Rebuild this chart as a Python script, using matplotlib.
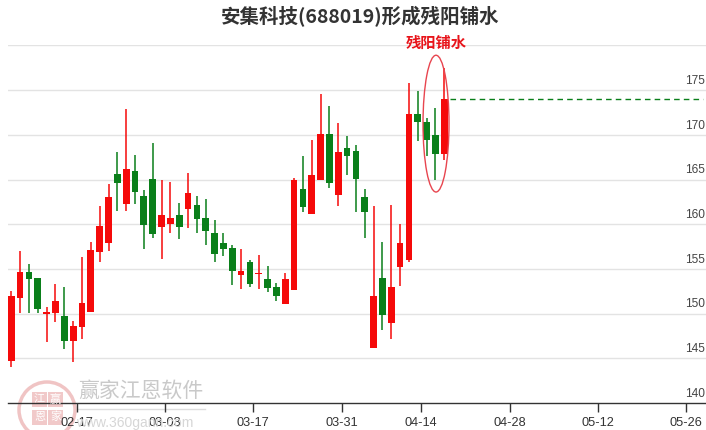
import matplotlib
matplotlib.use("Agg")
import matplotlib.pyplot as plt
from matplotlib.patches import Ellipse, Rectangle
import numpy as np
import pandas as pd

# ---------------- data ----------------
opens = [144.74, 151.78, 154.65, 153.94, 149.95, 150.10, 149.73, 146.97, 148.54, 150.21,
         156.92, 157.93, 165.61, 162.29, 165.94, 163.15, 165.05, 159.72, 160.02, 161.02,
         161.73, 162.14, 160.69, 159.01, 157.89, 157.33, 154.28, 155.77, 154.39, 153.87,
         152.94, 151.03, 152.60, 163.89, 161.17, 164.94, 170.08, 163.30, 168.48, 168.18,
         163.04, 146.11, 153.98, 148.98, 155.25, 155.99, 172.32, 171.42, 169.97, 167.88]
highs = [152.56, 157.00, 155.54, 153.94, 150.77, 153.31, 152.97, 149.17, 156.36, 158.00,
         162.07, 164.49, 168.07, 172.84, 167.73, 163.82, 169.07, 164.94, 164.71, 162.33,
         165.72, 163.15, 162.81, 160.46, 159.01, 157.67, 157.22, 155.99, 156.55, 155.32,
         153.42, 154.50, 165.12, 167.62, 169.41, 174.55, 173.21, 171.35, 169.86, 168.85,
         163.93, 162.07, 158.00, 162.14, 160.02, 175.75, 174.89, 171.83, 172.95, 177.42]
lows = [143.99, 150.10, 150.10, 150.10, 146.86, 149.10, 146.08, 144.62, 147.12, 150.21,
        155.73, 157.04, 161.51, 161.51, 162.29, 157.26, 158.49, 156.10, 159.05, 158.38,
        159.61, 159.05, 157.71, 155.81, 156.48, 153.23, 152.79, 153.01, 152.79, 152.45,
        151.44, 151.03, 152.60, 161.40, 161.17, 164.94, 164.08, 162.07, 165.53, 161.40,
        158.49, 146.11, 148.20, 147.12, 153.12, 155.81, 169.33, 167.66, 164.94, 167.17]
closes = [151.97, 154.65, 153.90, 150.48, 150.18, 151.41, 146.97, 148.61, 151.18, 157.11,
          159.79, 163.04, 164.64, 166.17, 163.56, 159.87, 158.94, 161.02, 160.69, 159.72,
          163.48, 160.61, 159.27, 156.70, 157.26, 154.80, 154.76, 153.35, 154.58, 152.90,
          152.00, 153.87, 164.94, 161.96, 165.50, 170.08, 164.64, 168.07, 167.66, 165.01,
          161.40, 151.97, 149.88, 152.97, 157.89, 172.32, 171.46, 169.45, 167.88, 174.00]

start_date = "2023-02-08"
end_date = "2023-05-31"
holidays = ["2023-04-05"]
tick_labels = ["02-17", "03-03", "03-17", "03-31", "04-14", "04-28", "05-12", "05-26"]
y_levels = [140, 145, 150, 155, 160, 165, 170, 175]
grid_levels = [145, 150, 155, 160, 165, 170, 175, 180]

title = "安集科技(688019)形成残阳铺水"
pattern_label = "残阳铺水"
pattern_candles = [47, 48, 49]  # indices of the marked candles

# ---------------- derived ----------------
days = pd.bdate_range(start_date, end_date)
days = days[~days.isin(pd.to_datetime(holidays))]
day_str = [d.strftime("%m-%d") for d in days]
n = len(opens)
xs = np.arange(n)
o = np.array(opens); h = np.array(highs); l = np.array(lows); c = np.array(closes)
up = c >= o

RED = "#f50a0a"
GREEN = "#0a7f1a"

W, H = 706, 430
fig = plt.figure(figsize=(W / 100, H / 100), dpi=100)
fig.patch.set_facecolor("white")

ax_left = 8 / W
ax_bottom = (H - 403) / H
ax_top = (H - 45.4) / H
ax = fig.add_axes([ax_left, ax_bottom, 1 - ax_left, ax_top - ax_bottom])
ax.set_facecolor("none")

px_per_day = 8.837
x0 = -(11.3 - 8) / px_per_day
x1 = x0 + (W - 8) / px_per_day
ax.set_xlim(x0, x1)
ax.set_ylim(140, 180)

# grid
for g in grid_levels:
    ax.axhline(g, color="#e3e3e3", lw=1.0, zorder=0)

# candles
cols = np.where(up, RED, GREEN)
ax.vlines(xs, l, h, colors=cols, lw=1.1, zorder=2)
body_bot = np.minimum(o, c)
body_h = np.maximum(np.abs(c - o), 0.18)
ax.bar(xs, body_h, bottom=body_bot, width=0.76, color=cols, edgecolor=cols,
       linewidth=0.0, zorder=3)

# dashed line at last close
ax.hlines(c[-1], n - 1 + 0.64, x1 - 0.3, colors=GREEN, linestyles=(0, (4, 3)), lw=1.0, zorder=2)

# ellipse around pattern
pc = np.array(pattern_candles)
e_cx = pc.mean() + 0.06
ell = Ellipse((e_cx, 171.25), width=2.94, height=15.3, fill=False,
              edgecolor="#e8454f", lw=1.0, zorder=4)
ax.add_patch(ell)

ax.text(e_cx, 180.3, pattern_label, color="#e8141a", fontsize=11, fontweight="bold",
        family=["Noto Sans CJK SC"], ha="center", va="center", zorder=5, clip_on=False)

# spines & ticks
for s in ["top", "right", "left"]:
    ax.spines[s].set_visible(False)
ax.spines["bottom"].set_color("#333333")
ax.spines["bottom"].set_linewidth(1.0)
ax.set_yticks([])

tick_pos = [day_str.index(t) + 0.38 for t in tick_labels]
ax.set_xticks(tick_pos)
ax.set_xticklabels(tick_labels, fontsize=9.2, color="#333333", family=["Liberation Sans"])
ax.tick_params(axis="x", length=6.5, width=1.0, color="#333333", pad=3.5, direction="out")

# y labels on the right, inside the plot area
label_x = (704.5 - 11.3) / px_per_day
for lv in y_levels:
    ax.text(label_x, lv + 0.35, f"{lv}", fontsize=8.6, color="#444444",
            family=["Liberation Sans"], ha="right", va="bottom", clip_on=False)

# title
fig.text(360 / W, 1 - 17 / H, title, fontsize=14, fontweight="bold", color="#333333",
         family=["Noto Sans CJK SC", "DejaVu Sans"], ha="center", va="center")

# watermark
wm = "#c9c9c9"
fig.text(141 / W, 1 - 391 / H, "赢家江恩软件", fontsize=15, color=wm,
         family=["Noto Sans CJK SC"], ha="center", va="center", zorder=0)
fig.text(135 / W, 1 - 423 / H, "www.360gann.com", fontsize=10, color="#d6d6d6",
         family=["Liberation Sans"], ha="center", va="center", zorder=0)
fig.add_artist(plt.Line2D([78 / W, 205 / W], [1 - 409 / H, 1 - 409 / H],
                          color="#dddddd", lw=1.0, transform=fig.transFigure, zorder=0))
circ = Ellipse((47 / W, 1 - 410 / H), 56 / W, 56 / H, transform=fig.transFigure,
               fill=False, edgecolor="#f0c4c4", lw=2.5, zorder=0)
fig.add_artist(circ)
for (cx, cy, ch) in [(39.5, 399.5, "江"), (55.5, 399.5, "赢"), (39.5, 417, "恩"), (55.5, 417, "家")]:
    fig.add_artist(Rectangle(((cx - 7.5) / W, 1 - (cy + 7.5) / H), 15 / W, 15 / H,
                             transform=fig.transFigure, facecolor="#f1c9c9",
                             edgecolor="none", zorder=0))
    fig.text(cx / W, 1 - cy / H, ch, fontsize=8, color="#ffffff",
             family=["Noto Sans CJK SC"], ha="center", va="center", zorder=0)

fig.savefig("out.png", dpi=100, facecolor="white")
